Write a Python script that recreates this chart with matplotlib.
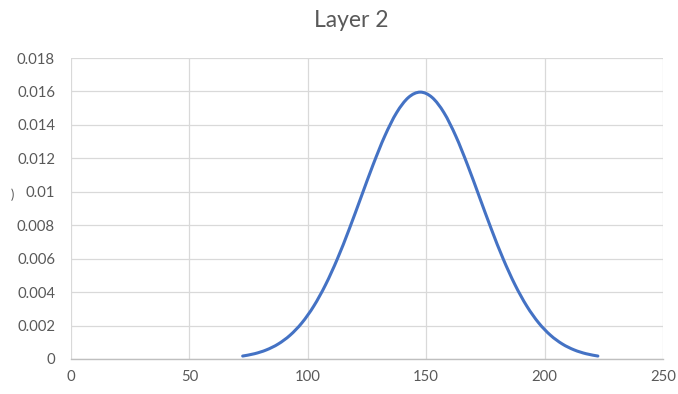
import matplotlib
matplotlib.use("Agg")
import matplotlib.pyplot as plt
from matplotlib.path import Path
from matplotlib.patches import PathPatch
import numpy as np

title = "Layer 2"
x_vals = [72.5, 77.5, 82.5, 87.5, 92.5, 97.5, 102.5, 107.5, 112.5, 117.5, 122.5,
          127.5, 132.5, 137.5, 142.5, 147.5, 152.5, 157.5, 162.5, 167.5, 172.5,
          177.5, 182.5, 187.5, 192.5, 197.5, 202.5, 207.5, 212.5, 217.5, 222.5]
y_vals = [0.000177, 0.000316, 0.000543, 0.000896, 0.00142, 0.00216, 0.00316,
          0.00444, 0.00599, 0.00777, 0.00968, 0.01159, 0.01333, 0.01473, 0.01564,
          0.01596, 0.01564, 0.01473, 0.01333, 0.01159, 0.00968, 0.00777, 0.00599,
          0.00444, 0.00316, 0.00216, 0.00142, 0.000896, 0.000543, 0.000316, 0.000177]
x_ticks = [0, 50, 100, 150, 200, 250]
y_ticks = [0, 0.002, 0.004, 0.006, 0.008, 0.01, 0.012, 0.014, 0.016, 0.018]
y_ticklabels = ["0", "0.002", "0.004", "0.006", "0.008", "0.01", "0.012", "0.014", "0.016", "0.018"]

plt.rcParams['font.family'] = ['Lato', 'DejaVu Sans']
fig = plt.figure(figsize=(6.78, 3.94), dpi=100)
ax = fig.add_axes([71/678, 1-359/394, (663-71)/678, (359-58)/394])

# smoothed line (Catmull-Rom -> cubic Bezier), like Excel's smoothed line
px = np.array(x_vals); py = np.array(y_vals)
verts = [(px[0], py[0])]
codes = [Path.MOVETO]
n = len(px)
for i in range(n - 1):
    p0 = (px[max(i-1, 0)], py[max(i-1, 0)])
    p1 = (px[i], py[i]); p2 = (px[i+1], py[i+1])
    p3 = (px[min(i+2, n-1)], py[min(i+2, n-1)])
    c1 = (p1[0] + (p2[0]-p0[0])/6, p1[1] + (p2[1]-p0[1])/6)
    c2 = (p2[0] - (p3[0]-p1[0])/6, p2[1] - (p3[1]-p1[1])/6)
    verts += [c1, c2, p2]
    codes += [Path.CURVE4]*3
patch = PathPatch(Path(verts, codes), facecolor='none', edgecolor='#4472C4',
                  lw=2.2, capstyle='round', joinstyle='round', zorder=3)
ax.add_patch(patch)

ax.set_xlim(0, 250)
ax.set_ylim(0, 0.018)
ax.set_xticks(x_ticks)
ax.set_yticks(y_ticks)
ax.set_yticklabels(y_ticklabels)
ax.grid(True, color='#d9d9d9', lw=0.9)
ax.set_axisbelow(True)
for s in ['top', 'right', 'left']:
    ax.spines[s].set_visible(False)
ax.spines['bottom'].set_color('#bfbfbf')
ax.spines['bottom'].set_linewidth(1.0)
ax.tick_params(axis='both', length=0, labelsize=10.7, colors='#595959')
ax.tick_params(axis='y', pad=11.5)
ax.tick_params(axis='x', pad=8)

fig.text(351/678, 1-27/394, title, ha='center', va='baseline', fontsize=16.5, color='#595959')
fig.text(12/678, 1-195/394, ")", ha='center', va='center', fontsize=9, color='#595959')

fig.savefig("out.png", dpi=100)
